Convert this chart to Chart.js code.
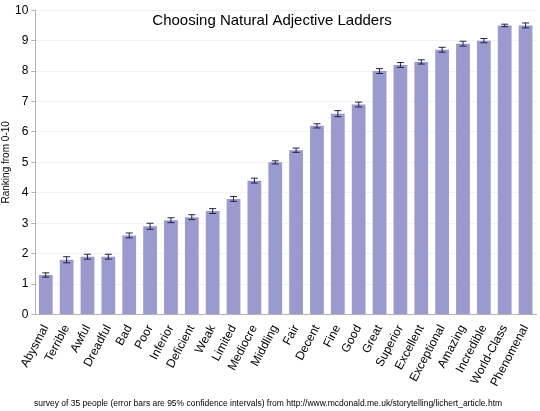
<!DOCTYPE html>
<html><head><meta charset="utf-8">
<script src="https://cdn.jsdelivr.net/npm/chart.js@4"></script>
<style>html,body{margin:0;padding:0;background:#fff}#w{width:540px;height:411px}</style>
</head><body><div id="w"><canvas id="c"></canvas></div>
<script>
const categories=["Abysmal","Terrible","Awful","Dreadful","Bad","Poor","Inferior","Deficient","Weak","Limited","Mediocre","Middling","Fair","Decent","Fine","Good","Great","Superior","Excellent","Exceptional","Amazing","Incredible","World-Class","Phenomenal"];
const values=[1.3,1.8,1.9,1.9,2.6,2.9,3.1,3.2,3.4,3.8,4.4,5.0,5.4,6.2,6.6,6.9,8.0,8.2,8.3,8.7,8.9,9.0,9.5,9.5];
const errors=[0.07,0.1,0.08,0.08,0.08,0.1,0.08,0.08,0.08,0.08,0.08,0.05,0.07,0.07,0.1,0.08,0.08,0.08,0.07,0.08,0.08,0.07,0.04,0.08];
const yTicks=[0,1,2,3,4,5,6,7,8,9,10];
const errPlugin={id:'err',afterDatasetsDraw(ch){
  const ctx=ch.ctx,y=ch.scales.y,meta=ch.getDatasetMeta(0);
  ctx.save();ctx.strokeStyle='#222244';ctx.lineWidth=1;
  meta.data.forEach((b,i)=>{const x=b.x,t=y.getPixelForValue(values[i]+errors[i]),bo=y.getPixelForValue(values[i]-errors[i]);
    ctx.beginPath();ctx.moveTo(x,t);ctx.lineTo(x,bo);ctx.moveTo(x-3.5,t);ctx.lineTo(x+3.5,t);ctx.moveTo(x-3.5,bo);ctx.lineTo(x+3.5,bo);ctx.stroke();});
  ctx.fillStyle='#000';ctx.font='15px "Liberation Sans", Arial';ctx.textAlign='center';ctx.textBaseline='middle';
  ctx.fillText('Choosing Natural Adjective Ladders',272,21);
  ctx.restore();}};
new Chart(document.getElementById('c'),{type:'bar',
 data:{labels:categories,datasets:[{data:values,backgroundColor:'#9a9acf',barPercentage:0.66,categoryPercentage:1}]},
 options:{responsive:true,maintainAspectRatio:false,animation:false,
  layout:{padding:{top:4,right:4,left:0,bottom:0}},
  plugins:{legend:{display:false},tooltip:{enabled:false},title:{display:false},
   subtitle:{display:true,position:'bottom',text:'survey of 35 people (error bars are 95% confidence intervals) from http://www.mcdonald.me.uk/storytelling/lichert_article.htm',font:{size:8.5,family:'"Liberation Sans", Arial'},color:'#000',padding:{top:10,bottom:2}}},
  scales:{
   x:{grid:{display:false},border:{color:'#b3b3b3'},ticks:{color:'#000',font:{size:12,family:'"Liberation Sans", Arial'},maxRotation:62,minRotation:62,autoSkip:false,padding:0}},
   y:{min:0,max:10,afterBuildTicks:a=>{a.ticks=yTicks.map(v=>({value:v}));},
      grid:{color:'#f2f2f2',drawTicks:true,tickLength:4,tickColor:'#b3b3b3'},border:{color:'#b3b3b3'},
      ticks:{color:'#000',font:{size:12,family:'"Liberation Sans", Arial'},padding:3},
      title:{display:true,text:'Ranking from 0-10',color:'#000',font:{size:10,family:'"Liberation Sans", Arial'},padding:0}}}},
 plugins:[errPlugin]});
</script></body></html>
